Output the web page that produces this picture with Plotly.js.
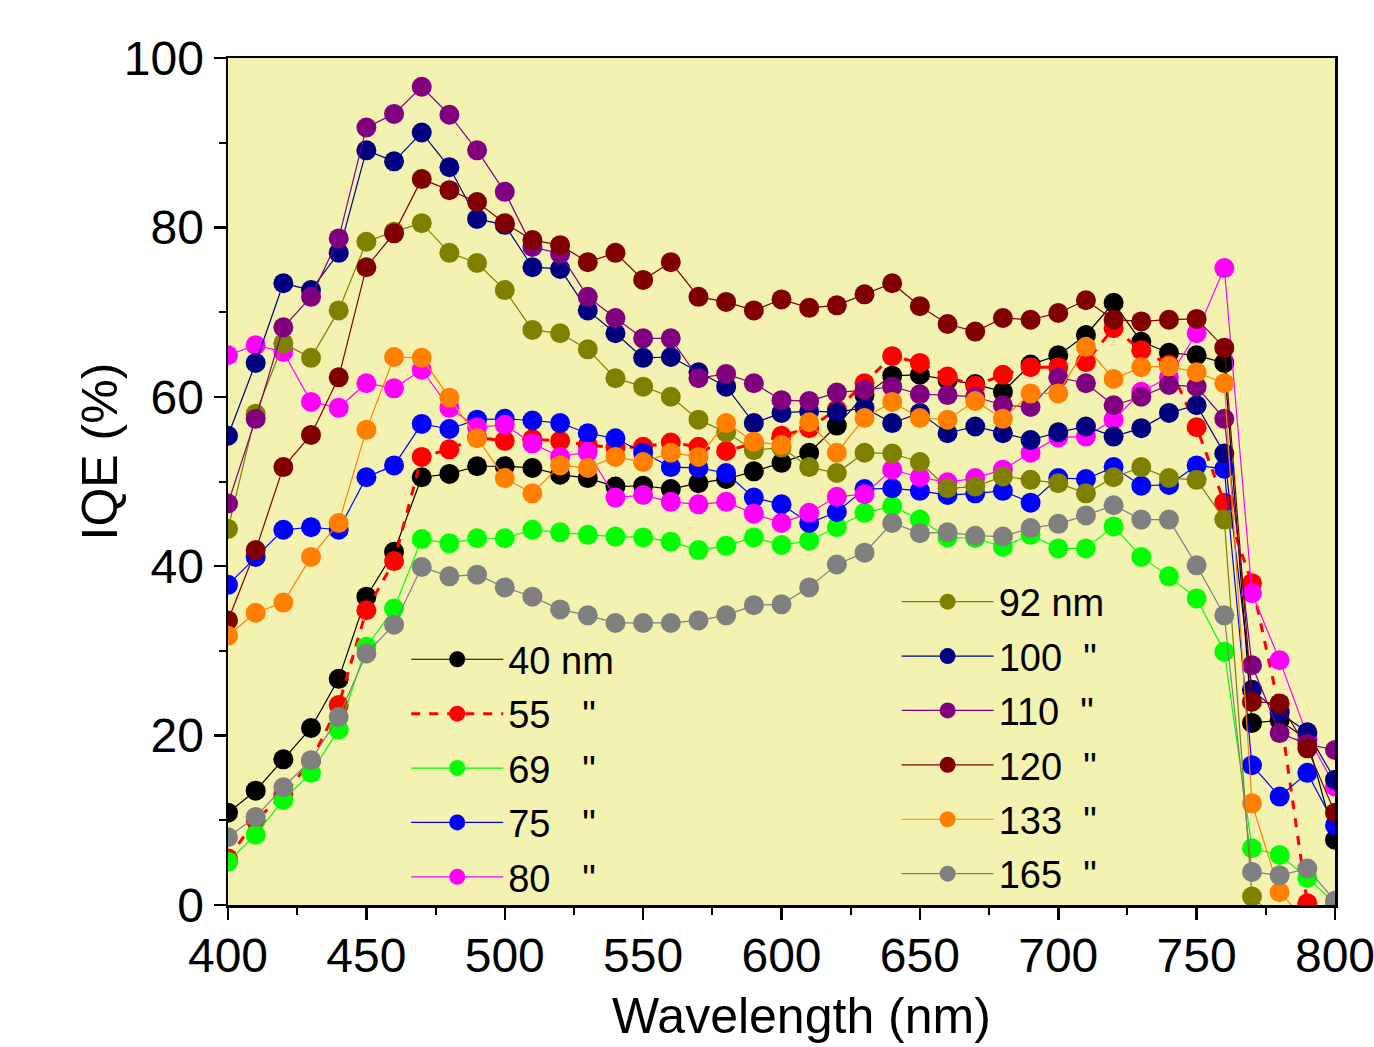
<!DOCTYPE html>
<html>
<head>
<meta charset="utf-8">
<script src="https://cdn.plot.ly/plotly-3.0.1.min.js"></script>
<style>html,body{margin:0;padding:0;background:#fff;}#chart{width:1374px;height:1047px;}</style>
</head>
<body>
<div id="chart"></div>
<script>
const wavelength = [400,410,420,430,440,450,460,470,480,490,500,510,520,530,540,550,560,570,580,590,600,610,620,630,640,650,660,670,680,690,700,710,720,730,740,750,760,770,780,790,800];

const iqe40  = [10.9,13.5,17.2,20.9,26.7,36.4,41.7,50.5,50.9,51.8,51.8,51.6,50.8,50.4,49.4,49.5,49.1,49.8,50.3,51.2,52.2,53.4,56.6,60.2,62.5,62.6,62.0,61.5,60.6,63.8,64.9,67.3,71.1,66.5,65.2,64.9,64.0,21.5,21.8,19.5,7.7];
const iqe55  = [5.5,10.0,13.0,17.0,23.6,34.8,40.6,52.9,53.8,55.2,54.8,55.0,54.8,54.3,54.0,54.1,54.6,54.1,53.6,54.5,55.4,56.3,58.5,61.6,64.8,64.0,62.4,61.3,62.6,63.5,63.5,64.1,68.1,65.5,63.8,56.4,47.5,38.0,23.0,0.2,-3];
const iqe69  = [5.1,8.3,12.4,15.6,20.7,30.5,35.0,43.2,42.7,43.3,43.3,44.3,44.0,43.7,43.5,43.4,42.9,41.9,42.4,43.4,42.5,43.0,44.6,46.3,47.1,45.5,43.4,43.3,42.3,43.7,42.1,42.1,44.7,41.1,38.8,36.2,29.9,6.7,5.9,3.2,0.2];
const iqe75  = [37.8,41.1,44.3,44.6,44.3,50.5,51.9,56.8,56.2,57.3,57.4,57.2,56.9,55.7,55.1,53.4,51.7,51.6,51.0,48.1,47.3,45.1,46.4,49.1,49.2,48.9,48.4,48.6,48.9,47.5,50.4,50.3,51.7,49.5,49.6,51.9,51.5,16.5,12.8,15.6,9.4];
const iqe80  = [64.9,66.1,65.3,59.4,58.7,61.6,61.0,63.2,58.7,56.4,56.7,54.5,52.9,53.5,48.1,48.4,47.6,47.3,47.6,46.2,45.1,46.3,48.2,48.5,51.4,50.5,49.9,50.4,51.4,53.4,55.2,55.3,57.3,60.6,62.3,67.5,75.2,36.8,28.9,20.0,14.0];
const iqe92  = [44.4,58.0,66.3,64.6,70.2,78.3,79.5,80.5,77.0,75.8,72.6,67.9,67.5,65.6,62.2,61.2,60.0,57.3,55.8,53.7,54.0,51.7,51.0,53.4,53.3,52.3,49.2,49.4,50.6,50.2,49.8,48.6,50.5,51.7,50.4,50.2,45.5,1.0,-2,-2,-2];
const iqe100 = [55.4,64.0,73.4,72.6,77.0,89.1,87.8,91.2,87.1,81.0,80.3,75.3,75.1,70.2,67.5,64.6,64.7,62.9,61.2,56.9,58.1,58.3,58.2,58.7,56.9,58.1,55.7,56.5,55.7,54.9,55.8,56.5,55.3,56.3,58.1,59.0,53.3,25.4,22.7,20.4,14.8];
const iqe110 = [47.4,57.4,68.2,71.8,78.7,91.8,93.4,96.6,93.3,89.1,84.2,77.7,76.9,71.8,69.3,66.9,66.9,62.2,62.7,61.6,59.6,59.5,60.5,60.8,61.2,60.3,60.2,60.0,59.0,58.8,62.3,61.6,59.0,60.0,61.4,61.2,57.4,28.3,20.3,19.0,18.3];
const iqe120 = [33.6,41.9,51.7,55.5,62.3,75.3,79.3,85.7,84.4,83.0,80.5,78.5,77.9,75.9,77.0,73.8,75.9,71.8,71.2,70.2,71.5,70.5,70.8,72.1,73.4,70.7,68.6,67.7,69.3,69.1,69.9,71.4,69.1,68.9,69.1,69.2,65.8,24.0,23.8,18.5,10.9];
const iqe133 = [31.8,34.5,35.7,41.1,45.1,56.1,64.7,64.6,59.9,55.1,50.4,48.6,51.9,51.6,52.9,52.3,53.4,52.9,56.9,54.7,54.3,57.0,53.4,57.5,59.4,57.5,57.3,59.5,57.4,60.4,60.4,65.9,62.1,63.5,63.6,62.9,61.6,12.0,1.5,-2,-2];
const iqe165 = [8.0,10.4,13.9,17.1,22.2,29.7,33.1,39.9,38.8,39.0,37.5,36.4,34.9,34.2,33.3,33.3,33.3,33.6,34.2,35.4,35.5,37.5,40.2,41.6,45.1,43.9,44.0,43.6,43.5,44.5,45.0,46.0,47.2,45.5,45.5,40.1,34.2,3.9,3.5,4.3,0.5];

const NB = '\u00a0';
const seriesNames = ['40 nm', '55'+NB.repeat(3)+'"', '69'+NB.repeat(3)+'"', '75'+NB.repeat(3)+'"', '80'+NB.repeat(3)+'"',
                     '92 nm', '100'+NB.repeat(2)+'"', '110'+NB.repeat(2)+'"', '120'+NB.repeat(2)+'"', '133'+NB.repeat(2)+'"', '165'+NB.repeat(2)+'"'];
const seriesValues = [iqe40, iqe55, iqe69, iqe75, iqe80, iqe92, iqe100, iqe110, iqe120, iqe133, iqe165];
const seriesColors = ['#000000','#FF0000','#00FF00','#0000FF','#FF00FF','#808000','#000080','#800080','#800000','#FF8000','#808080'];

const xTitle = 'Wavelength (nm)';
const yTitle = 'IQE (%)';

const traces = seriesValues.map((vals, i) => ({
  type: 'scatter',
  mode: 'lines+markers',
  x: wavelength,
  y: vals,
  name: seriesNames[i],
  legend: i < 5 ? 'legend' : 'legend2',
  legendgroup: 'g' + i,
  line: {color: seriesColors[i], width: i === 1 ? 3 : 1.2, dash: i === 1 ? 'dash' : 'solid'},
  marker: {color: seriesColors[i], size: 20, symbol: 'circle', line: {width: 0}},
  cliponaxis: true
}));

const FONT = 'Liberation Sans, Arial, sans-serif';

const legendCommon = {
  bgcolor: 'rgba(0,0,0,0)',
  borderwidth: 0,
  font: {family: FONT, size: 38, color: '#000'},
  itemwidth: 92,
  tracegroupgap: 2,
  xanchor: 'left',
  yanchor: 'top'
};

const layout = {
  width: 1374,
  height: 1047,
  margin: {l: 228, r: 39, t: 58, b: 142},
  paper_bgcolor: '#FFFFFF',
  plot_bgcolor: '#F3F2B0',
  font: {family: FONT, color: '#000'},
  showlegend: true,
  legend: Object.assign({}, legendCommon, {x: 0.161, y: 0.327}),
  legend2: Object.assign({}, legendCommon, {x: 0.604, y: 0.395}),
  xaxis: {
    range: [400, 800],
    dtick: 50,
    tick0: 400,
    ticks: 'outside',
    ticklen: 12,
    tickwidth: 2.5,
    tickcolor: '#000',
    showline: true,
    linewidth: 2.5,
    linecolor: '#000',
    mirror: true,
    showgrid: false,
    zeroline: false,
    ticklabeloverflow: 'allow',
    ticklabelstandoff: -5,
    tickfont: {size: 48, family: FONT},
    minor: {dtick: 25, ticks: 'outside', ticklen: 7, tickwidth: 2, tickcolor: '#000', showgrid: false}
  },
  yaxis: {
    range: [0, 100],
    dtick: 20,
    tick0: 0,
    ticks: 'outside',
    ticklen: 12,
    tickwidth: 2.5,
    tickcolor: '#000',
    showline: true,
    linewidth: 2.5,
    linecolor: '#000',
    mirror: true,
    showgrid: false,
    zeroline: false,
    tickfont: {size: 48, family: FONT},
    minor: {dtick: 10, ticks: 'outside', ticklen: 7, tickwidth: 2, tickcolor: '#000', showgrid: false}
  },
  annotations: [
    {text: xTitle, xref: 'paper', yref: 'paper', x: 0.518, y: -0.131, xanchor: 'center', yanchor: 'middle',
     showarrow: false, font: {size: 50, family: FONT, color: '#000'}},
    {text: yTitle, xref: 'paper', yref: 'paper', x: -0.116, y: 0.535, xanchor: 'center', yanchor: 'middle',
     textangle: -90, showarrow: false, font: {size: 50, family: FONT, color: '#000'}}
  ]
};

Plotly.newPlot('chart', traces, layout, {staticPlot: true, displayModeBar: false});
</script>
</body>
</html>
